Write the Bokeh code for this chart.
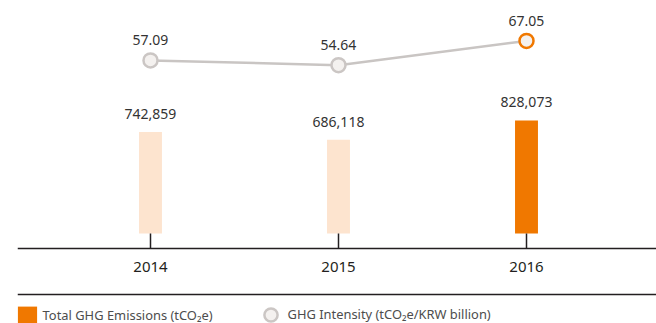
from bokeh.plotting import figure
from bokeh.models import (ColumnDataSource, LinearAxis, FixedTicker, Range1d,
                          Legend, LegendItem, LabelSet)
from bokeh.core.properties import value
from bokeh.embed import file_html
from bokeh.resources import INLINE

# Data
years = [2014, 2015, 2016]
emissions = [742859, 686118, 828073]          # tCO2e
intensity = [57.09, 54.64, 67.05]             # tCO2e / KRW billion
emission_labels = ["742,859", "686,118", "828,073"]
intensity_labels = ["57.09", "54.64", "67.05"]

LIGHT = "#fde4cf"
ORANGE = "#f07800"
GREY = "#cbc6c4"
TEXT = "#231f20"
FONT = "Noto Sans"

# vertical scale: tCO2e per screen pixel
PER_PX = 7320

src = ColumnDataSource(dict(
    year=years,
    em=emissions,
    inten=intensity,
    em_lab=emission_labels,
    in_lab=intensity_labels,
    bar_color=[LIGHT, LIGHT, ORANGE],
    mk_line=[GREY, GREY, ORANGE],
))

p = figure(width=656, height=323, output_backend="svg", toolbar_location=None,
           x_range=Range1d(2013.2926, 2016.6915),
           y_range=Range1d(-90 * PER_PX, 233 * PER_PX),
           x_axis_location=None, y_axis_location=None,
           min_border_left=17, min_border_right=0, min_border_top=0,
           min_border_bottom=0, outline_line_color=None)
p.grid.visible = False
p.extra_y_ranges = {"intensity": Range1d(-77.56, 87.74)}

bars = p.vbar(x="year", top="em", bottom=0, width=0.122, source=src,
              fill_color="bar_color", line_color=None)

p.line(x="year", y="inten", source=src, y_range_name="intensity",
       line_color="#c9c5c3", line_width=2.5)
pts = p.scatter(x="year", y="inten", source=src, y_range_name="intensity",
                size=14, fill_color="#f4f1ef", line_color="mk_line",
                line_width=2.5)

p.add_layout(LabelSet(x="year", y="em", text="em_lab", source=src,
                      text_align="center", text_baseline="middle", y_offset=18,
                      text_font=value(FONT), text_font_size="14px",
                      text_color="#333333"))
p.add_layout(LabelSet(x="year", y="inten", text="in_lab", source=src,
                      y_range_name="intensity",
                      text_align="center", text_baseline="middle", y_offset=20,
                      text_font=value(FONT), text_font_size="14px",
                      text_color="#333333"))

# Year axis a little below the bar baseline, ticks pointing up to the bars
xa = LinearAxis(ticker=FixedTicker(ticks=years),
                fixed_location=-15 * PER_PX,
                major_tick_in=15, major_tick_out=0,
                minor_tick_line_color=None,
                axis_line_color=TEXT, axis_line_width=1.5,
                major_tick_line_color=TEXT, major_tick_line_width=1.5,
                major_label_standoff=13,
                major_label_text_font=FONT, major_label_text_font_size="15px",
                major_label_text_color=TEXT)
p.add_layout(xa, "below")

# Rule above the legend
rule = LinearAxis(ticker=FixedTicker(ticks=[]),
                  fixed_location=-61 * PER_PX,
                  major_tick_in=0, major_tick_out=0,
                  minor_tick_line_color=None,
                  major_label_text_font_size="0px",
                  axis_line_color=TEXT, axis_line_width=1.5)
p.add_layout(rule, "below")

legend_style = dict(orientation="horizontal", margin=0, padding=0,
                    label_text_font=FONT, label_text_font_size="12.9px",
                    label_text_color="#4d4d4d", border_line_color=None,
                    background_fill_alpha=0)

emis_legend = Legend(items=[
    LegendItem(label="Total GHG Emissions (tCO\u2082e)", renderers=[bars], index=2),
], location=(-2.4, -2), glyph_width=24, glyph_height=21, label_height=21,
    label_standoff=4, **legend_style)
p.add_layout(emis_legend, "center")

int_legend = Legend(items=[
    LegendItem(label="GHG Intensity (tCO\u2082e/KRW billion)", renderers=[pts], index=0),
], location=(236.5, -7.5), glyph_width=33, glyph_height=33, label_height=33,
    label_standoff=1, **legend_style)
p.add_layout(int_legend, "center")

open("out.html", "w").write(file_html(p, INLINE))
